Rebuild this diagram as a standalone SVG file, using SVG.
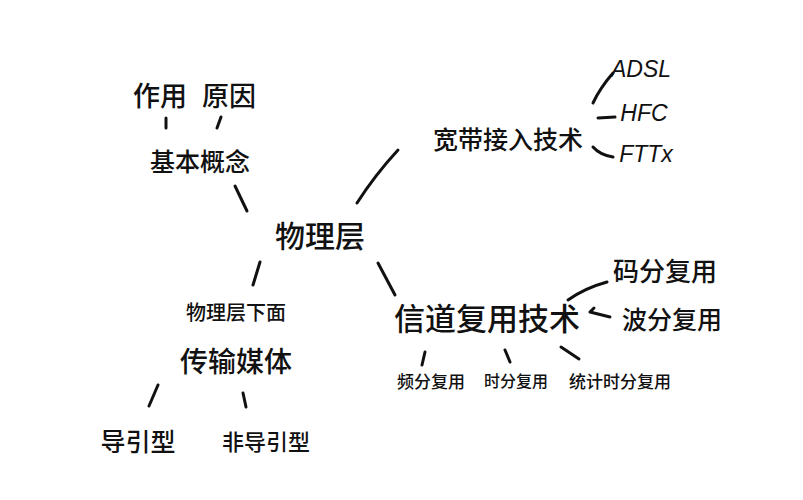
<svg xmlns="http://www.w3.org/2000/svg" width="803" height="500" viewBox="0 0 803 500">
<style>
text{font-family:"Noto Sans CJK SC","Noto Sans",sans-serif;fill:#111;text-anchor:middle;dominant-baseline:central;font-weight:500}
.en{font-family:"Liberation Sans","Noto Sans",sans-serif;font-style:italic;font-weight:400}
#connectors path{fill:none;stroke:#111;stroke-width:3;stroke-linecap:round;stroke-linejoin:round}
</style>
<rect width="803" height="500" fill="#fff"/>
<g id="connectors">
<path d="M166 118 L166 128"/>
<path d="M221 117 L217 128"/>
<path d="M235 186 L247 211"/>
<path d="M357 203 Q375 175 398 150"/>
<path d="M260 262 L253 285"/>
<path d="M378 263 L395 295"/>
<path d="M593 103 Q600 88 613 73"/>
<path d="M598 118 L615 117"/>
<path d="M593 147 Q600 155 613 157"/>
<path d="M607 282 Q585 288 568 300"/>
<path d="M610 317 L590 312 M590 312 L594 308"/>
<path d="M425 352 L422 365"/>
<path d="M505 350 L510 362"/>
<path d="M561 347 L579 359"/>
<path d="M158 385 L149 406"/>
<path d="M243 393 L246 407"/>
</g>
<g id="n-zuoyong"><text x="160" y="94" font-size="27">作用</text></g>
<g id="n-yuanyin"><text x="229" y="94" font-size="27">原因</text></g>
<g id="n-jiben"><text x="200" y="160" font-size="25">基本概念</text></g>
<g id="n-wulice"><text x="320" y="234" font-size="30">物理层</text></g>
<g id="n-kuandai"><text x="508" y="138" font-size="25">宽带接入技术</text></g>
<g id="n-adsl"><text class="en" x="641" y="69" font-size="23">ADSL</text></g>
<g id="n-hfc"><text class="en" x="644" y="113" font-size="23">HFC</text></g>
<g id="n-fttx"><text class="en" x="646" y="154" font-size="23">FTTx</text></g>
<g id="n-xiamian"><text x="236" y="311" font-size="20">物理层下面</text></g>
<g id="n-meiti"><text x="236" y="360" font-size="28">传输媒体</text></g>
<g id="n-daoyin"><text x="138" y="440" font-size="25">导引型</text></g>
<g id="n-feidaoyin"><text x="266" y="440" font-size="22">非导引型</text></g>
<g id="n-xindao"><text x="487" y="316" font-size="31">信道复用技术</text></g>
<g id="n-mafen"><text x="665" y="269" font-size="26">码分复用</text></g>
<g id="n-bofen"><text x="672" y="318" font-size="25">波分复用</text></g>
<g id="n-pinfen"><text x="431" y="380" font-size="17">频分复用</text></g>
<g id="n-shifen"><text x="516" y="380" font-size="16">时分复用</text></g>
<g id="n-tongji"><text x="620" y="380" font-size="17">统计时分复用</text></g>
</svg>
